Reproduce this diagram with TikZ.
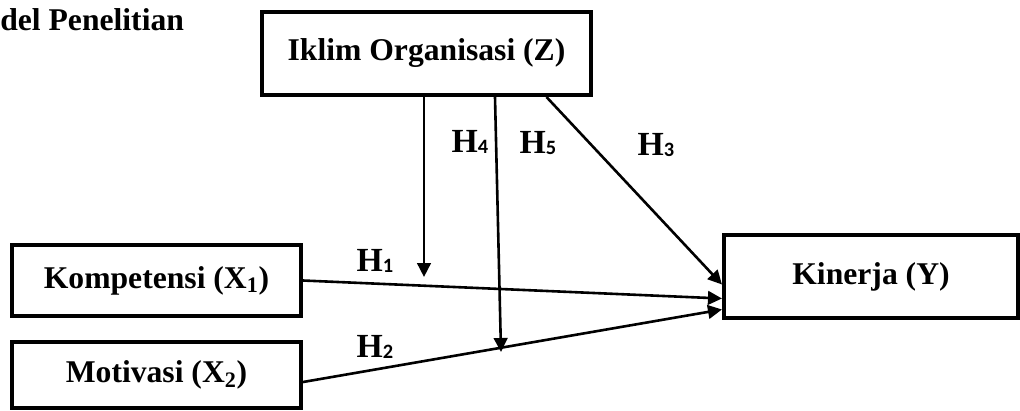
\documentclass[tikz,border=0pt]{standalone}
\usepackage{fontspec}
\setmainfont{Liberation Serif}
\newfontfamily\subfont{Carlito}
\usetikzlibrary{arrows.meta,calc}
\newcommand{\hsub}[1]{H{\subfont\bfseries\fontsize{14.5}{14.5}\selectfont\raisebox{-1pt}{#1}}}
\tikzset{
  varbox/.style={draw=black, line width=0.1cm, fill=white, align=center,
    inner sep=2pt, font=\fontsize{22.5}{26}\selectfont\bfseries},
  hubarr/.style={-{Triangle[length=0.35cm, width=0.34cm]}, line width=0.065cm, black},
  hyplabel/.style={inner sep=0pt, font=\fontsize{24}{28}\selectfont\bfseries},
  judulteks/.style={anchor=base west, inner sep=0pt, font=\fontsize{22.5}{26}\selectfont\bfseries},
}
\begin{document}
\begin{tikzpicture}[x=0.025cm, y=-0.025cm]
    \useasboundingbox (0,0) rectangle (1020,410);
    \node[judulteks] (judul) at (0,30) {del Penelitian};
    % ---- variabel ----
    \node[varbox, minimum width=8.225cm, minimum height=2.075cm] (iklim) at (426.5,53.5) {Iklim Organisasi (Z)};
    \node[varbox, minimum width=7.225cm, minimum height=1.775cm] (kompetensi) at (156.5,280.5) {Kompetensi (X\textsubscript{1})};
    \node[varbox, minimum width=7.225cm, minimum height=1.65cm] (motivasi) at (156.5,375) {Motivasi (X\textsubscript{2})};
    \node[varbox, minimum width=7.35cm, minimum height=2.075cm] (kinerja) at (871,276.5) {Kinerja (Y)};
    % ---- ujung panah moderasi ----
    \coordinate (h4tip) at (424,277);
    \coordinate (h5tip) at (501,352);
    % ---- hubungan ----
    \draw[hubarr] (kompetensi.east) -- ($(kinerja.west)+(0,22)$);
    \draw[hubarr] ($(motivasi.east)+(0,7)$) -- ($(kinerja.west)+(0,33)$);
    \draw[hubarr] ($(iklim.south)+(120,0)$) -- ($(kinerja.west)+(0,8)$);
    \draw[hubarr] (iklim.south -| h4tip) -- (h4tip);
    \draw[hubarr] ($(iklim.south -| h5tip)+(-6,0)$) -- (h5tip);
    % ---- label hipotesis ----
    \node[hyplabel] (h1) at (375,261) {\hsub{1}};
    \node[hyplabel] (h2) at (375,347) {\hsub{2}};
    \node[hyplabel] (h3) at (656,145) {\hsub{3}};
    \node[hyplabel] (h4) at (470,142) {\hsub{4}};
    \node[hyplabel] (h5) at (538,143) {\hsub{5}};
  \end{tikzpicture}
\end{document}
